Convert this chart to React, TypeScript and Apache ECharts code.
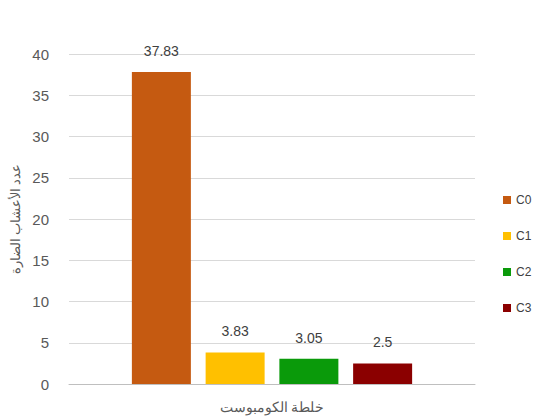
import React, { useEffect, useRef } from "react";
import * as echarts from "echarts";

const categories = [""];
const seriesNames = ["C0", "C1", "C2", "C3"];
const seriesValues = [37.83, 3.83, 3.05, 2.5];
const seriesColors = ["#C55A11", "#FFC000", "#0A9A0A", "#8B0000"];
const yTicks = { min: 0, max: 40, interval: 5 };

export default function App() {
  const ref = useRef<HTMLDivElement>(null);
  useEffect(() => {
    const chart = echarts.init(ref.current!, null, { renderer: "svg" });
    chart.setOption({
      animation: false,
      backgroundColor: "#ffffff",
      grid: { left: 66, right: 66, top: 54, bottom: 30 },
      legend: {
        orient: "vertical",
        left: 498,
        top: 189,
        itemWidth: 8,
        itemHeight: 8,
        itemGap: 24,
        icon: "rect",
        textStyle: { color: "#404040", fontSize: 12, fontFamily: "Liberation Sans" },
        data: seriesNames,
      },
      xAxis: {
        type: "category",
        data: categories,
        name: "خلطة الكومبوست",
        nameLocation: "middle",
        nameGap: 15,
        nameTextStyle: { color: "#595959", fontSize: 14, fontFamily: "Noto Sans" },
        axisLine: { lineStyle: { color: "#bfbfbf" } },
        axisTick: { show: false },
        axisLabel: { show: false },
      },
      yAxis: {
        type: "value",
        min: yTicks.min,
        max: yTicks.max,
        interval: yTicks.interval,
        name: "عدد الأعشاب الضارة",
        nameLocation: "middle",
        nameGap: 48,
        nameRotate: 90,
        nameTextStyle: { color: "#595959", fontSize: 13, fontFamily: "Noto Sans" },
        axisLine: { show: false },
        axisTick: { show: false },
        axisLabel: { color: "#595959", fontSize: 15, margin: 20, fontFamily: "Liberation Sans" },
        splitLine: { lineStyle: { color: "#d9d9d9" } },
      },
      series: seriesNames.map((name, i) => ({
        name,
        type: "bar",
        data: [seriesValues[i]],
        barWidth: 59,
        barGap: "25%",
        itemStyle: { color: seriesColors[i] },
        label: {
          show: true,
          position: "top",
          distance: 14,
          color: "#404040",
          fontSize: 14,
          fontFamily: "Liberation Sans",
        },
      })),
    });
    return () => chart.dispose();
  }, []);
  return (
    <div
      ref={ref}
      style={{ position: "absolute", left: 0, top: 0, width: 541, height: 418 }}
    />
  );
}
